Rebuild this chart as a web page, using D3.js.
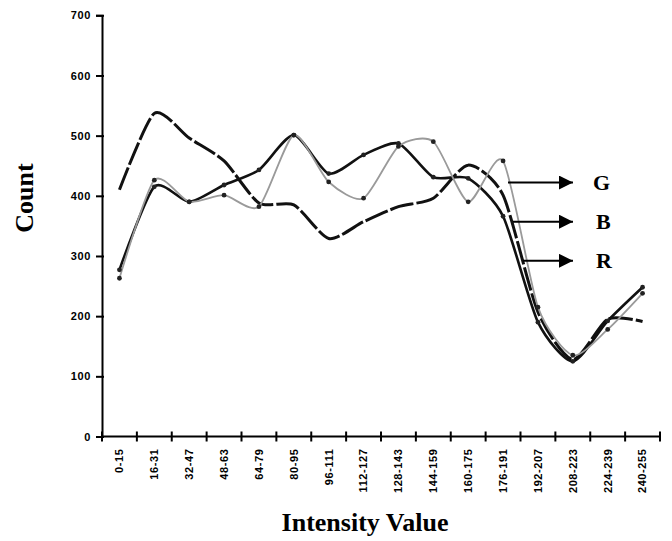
<!DOCTYPE html>
<html lang="en">
<head>
    <meta charset="UTF-8">
    <title>Count vs Intensity Value</title>
    <style>
        body { margin: 0; background: #fff; }
        svg { display: block; }
    </style>
</head>
<body>
    <script src="https://cdn.jsdelivr.net/npm/d3@7"></script>
    <svg id="mysvg" width="672" height="541"></svg>
    <script>
        // histogram bins (16 intensity bins of width 16)
        var bins = ["0-15", "16-31", "32-47", "48-63", "64-79", "80-95", "96-111", "112-127",
                    "128-143", "144-159", "160-175", "176-191", "192-207", "208-223", "224-239", "240-255"];

        // counts
        var rCounts = [410, 537, 496, 458, 388, 385, 329, 357, 382, 396, 451, 401, 207, 128, 195, 191];
        var gCounts = [263, 426, 390, 401, 382, 501, 423, 396, 482, 490, 390, 458, 215, 135, 178, 238];
        var bCounts = [277, 415, 390, 418, 443, 501, 437, 468, 487, 431, 429, 366, 190, 125, 192, 248];

        var yTicks = [0, 100, 200, 300, 400, 500, 600, 700];
        var legendNames = ["G", "B", "R"];
        var legendAt = [422, 357, 292];   // count level where each arrow sits

        var svg = d3.select("#mysvg");

        var x = d3.scaleBand().domain(bins).range([102, 660]).padding(0);
        var y = d3.scaleLinear().domain([0, 700]).range([436.5, 15.3]);

        var cx = function(d, i) { return x(bins[i]) + x.bandwidth() / 2; };

        // y axis
        var yAxis = svg.append("g")
            .attr("transform", "translate(102,0)")
            .call(d3.axisLeft(y).tickValues(yTicks).tickSize(6).tickPadding(5));
        yAxis.select(".domain").attr("stroke", "#000").attr("stroke-width", 2);
        yAxis.selectAll(".tick line").attr("x1", 2).attr("stroke-width", 2);
        yAxis.selectAll(".tick text")
            .attr("font-family", "Liberation Sans, Arial, sans-serif")
            .attr("font-weight", "bold")
            .attr("font-size", 11)
            .attr("letter-spacing", 0.6)
            .attr("fill", "#000");

        // x axis: labels at bin centres, ticks at bin edges
        var xAxis = svg.append("g")
            .attr("transform", "translate(0," + y(0) + ")")
            .call(d3.axisBottom(x).tickSize(0).tickPadding(0));
        xAxis.select(".domain").remove();
        xAxis.selectAll(".tick text")
            .attr("font-family", "Liberation Sans, Arial, sans-serif")
            .attr("font-weight", "bold")
            .attr("font-size", 11)
            .attr("letter-spacing", 0.6)
            .attr("fill", "#000")
            .attr("text-anchor", "end")
            .attr("transform", "rotate(-90)")
            .attr("x", -12)
            .attr("y", 0)
            .attr("dy", "0.35em");

        svg.append("line")
            .attr("x1", 101).attr("x2", 660)
            .attr("y1", y(0)).attr("y2", y(0))
            .attr("stroke", "#000").attr("stroke-width", 2);

        var edges = bins.map(function(b) { return x(b); }).concat([x.range()[1]]);
        svg.selectAll(".xtick").data(edges).enter().append("line")
            .attr("class", "xtick")
            .attr("x1", function(d) { return d; }).attr("x2", function(d) { return d; })
            .attr("y1", y(0) - 5).attr("y2", y(0) + 5)
            .attr("stroke", "#000").attr("stroke-width", 2);

        // series
        var line = d3.line()
            .x(cx)
            .y(function(d) { return y(d); })
            .curve(d3.curveCardinal.tension(0.3));

        svg.append("path").datum(rCounts)
            .attr("d", line)
            .attr("fill", "none")
            .attr("stroke", "#111")
            .attr("stroke-width", 3)
            .attr("stroke-dasharray", "24,3");

        svg.append("path").datum(bCounts)
            .attr("d", line)
            .attr("fill", "none")
            .attr("stroke", "#111")
            .attr("stroke-width", 2.6);

        svg.append("path").datum(gCounts)
            .attr("d", line)
            .attr("fill", "none")
            .attr("stroke", "#9a9a9a")
            .attr("stroke-width", 1.8);

        [bCounts, gCounts].forEach(function(series) {
            svg.append("g").selectAll("circle").data(series).enter().append("circle")
                .attr("cx", cx)
                .attr("cy", function(d) { return y(d); })
                .attr("r", 2.4)
                .attr("fill", "#222");
        });

        // legend arrows
        var defs = svg.append("defs");
        defs.append("marker")
            .attr("id", "arrow")
            .attr("viewBox", "0 0 10 10")
            .attr("refX", 10).attr("refY", 5)
            .attr("markerWidth", 8).attr("markerHeight", 7)
            .attr("markerUnits", "strokeWidth")
            .attr("orient", "auto")
            .append("path").attr("d", "M0,0 L10,5 L0,10 Z").attr("fill", "#000");

        var arrowStart = [508, 513, 523];
        legendNames.forEach(function(name, i) {
            var ly = y(legendAt[i]);
            svg.append("line")
                .attr("x1", arrowStart[i]).attr("x2", 573)
                .attr("y1", ly).attr("y2", ly)
                .attr("stroke", "#000").attr("stroke-width", 2)
                .attr("marker-end", "url(#arrow)");
            svg.append("text")
                .attr("x", 593 + (i > 0 ? 3 : 0))
                .attr("y", ly)
                .attr("dy", "0.35em")
                .attr("font-family", "Liberation Serif, Times New Roman, serif")
                .attr("font-weight", "bold")
                .attr("font-size", 22)
                .text(name);
        });

        // axis titles
        svg.append("text")
            .attr("transform", "translate(33,198) rotate(-90)")
            .attr("text-anchor", "middle")
            .attr("font-family", "Liberation Serif, Times New Roman, serif")
            .attr("font-weight", "bold")
            .attr("font-size", 26)
            .text("Count");

        svg.append("text")
            .attr("x", 365).attr("y", 531)
            .attr("text-anchor", "middle")
            .attr("font-family", "Liberation Serif, Times New Roman, serif")
            .attr("font-weight", "bold")
            .attr("font-size", 26)
            .text("Intensity Value");
    </script>
</body>
</html>
